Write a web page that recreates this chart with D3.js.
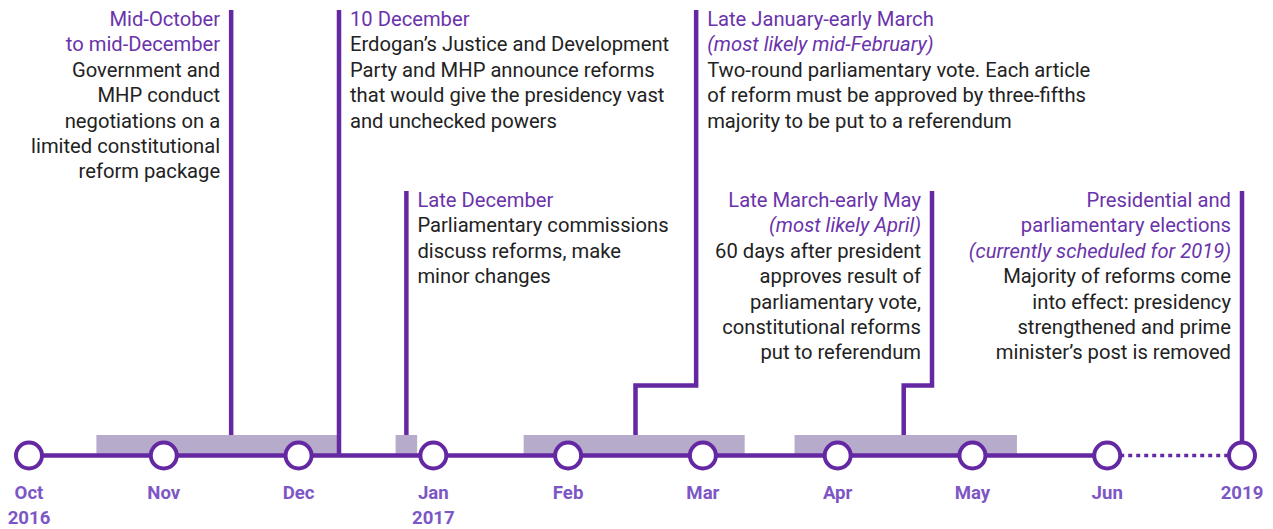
<!DOCTYPE html>
<html>
<head>
<meta charset="utf-8">
<script src="https://cdn.jsdelivr.net/npm/d3@7.9.0/dist/d3.min.js"></script>
<style>
  body { margin: 0; background: #fff; }
  svg { display: block; font-family: Roboto, "Noto Sans", sans-serif; }
</style>
</head>
<body>
<svg id="timeline" width="1273" height="529"></svg>
<script>
// ---- data ----
const months = ["Oct", "Nov", "Dec", "Jan", "Feb", "Mar", "Apr", "May", "Jun", "2019"];
const years = ["2016", "", "", "2017", "", "", "", "", "", ""];

// shaded periods, in month positions (0 = Oct 2016)
const periodStart = [0.50, 2.72, 3.67, 5.68];
const periodEnd = [2.29, 2.88, 5.31, 7.33];

// event annotations
const eventTitles = [
  ["Mid-October", "to mid-December"],
  ["10 December"],
  ["Late December"],
  ["Late January-early March"],
  ["Late March-early May"],
  ["Presidential and", "parliamentary elections"]
];
const eventNotes = [
  [],
  [],
  [],
  ["(most likely mid-February)"],
  ["(most likely April)"],
  ["(currently scheduled for 2019)"]
];
const eventBodies = [
  ["Government and", "MHP conduct", "negotiations on a", "limited constitutional", "reform package"],
  ["Erdogan’s Justice and Development", "Party and MHP announce reforms", "that would give the presidency vast", "and unchecked powers"],
  ["Parliamentary commissions", "discuss reforms, make", "minor changes"],
  ["Two-round parliamentary vote. Each article", "of reform must be approved by three-fifths", "majority to be put to a referendum"],
  ["60 days after president", "approves result of", "parliamentary vote,", "constitutional reforms", "put to referendum"],
  ["Majority of reforms come", "into effect: presidency", "strengthened and prime", "minister’s post is removed"]
];
// where the pointer line rises (month position), where it lands, and which row the text sits in
const eventStem = [1.50, 2.30, 2.80, 4.95, 6.70, 9.00];
const eventFoot = [1.50, 2.30, 2.80, 4.50, 6.49, 9.00];
const eventLands = ["bar", "axis", "bar", "bar", "bar", "circle"];
const eventRow = [0, 0, 1, 0, 1, 1];
const eventSide = ["left", "right", "right", "right", "left", "left"];

// ---- layout ----
const svg = d3.select("#timeline");
const purple = "#6428a3";
const headColor = "#6a33ab";
const tickColor = "#7d56c6";
const barColor = "#b7abcb";
const textColor = "#222";

const axisY = 455.5;
const barTop = 435;
const barBottom = 455;
const elbowY = 385.5;
const rowTop = [10, 191];
const lineH = 25.4;
const r = 13;

const x = d3.scaleLinear().domain([0, months.length - 1]).range([29, 1242]);

// shaded bars
svg.append("g").selectAll("rect")
  .data(periodStart.map((s, i) => ({ s, e: periodEnd[i] })))
  .join("rect")
  .attr("x", d => x(d.s))
  .attr("y", barTop)
  .attr("width", d => x(d.e) - x(d.s))
  .attr("height", barBottom - barTop)
  .attr("fill", barColor);

// axis line: solid to Jun, dotted to 2019
svg.append("line")
  .attr("x1", x(0)).attr("x2", x(8))
  .attr("y1", axisY).attr("y2", axisY)
  .attr("stroke", purple).attr("stroke-width", 4.5);
svg.append("line")
  .attr("x1", x(8) + r).attr("x2", x(9) - r)
  .attr("y1", axisY).attr("y2", axisY)
  .attr("stroke", purple).attr("stroke-width", 3.5)
  .attr("stroke-dasharray", "4,4");

// pointer lines
const stems = svg.append("g")
  .attr("fill", "none")
  .attr("stroke", purple)
  .attr("stroke-width", 4.5);

eventStem.forEach((s, i) => {
  const xs = x(s), xf = x(eventFoot[i]);
  const top = rowTop[eventRow[i]];
  const end = eventLands[i] === "bar" ? barTop : eventLands[i] === "axis" ? axisY : axisY - r;
  const pts = xs === xf
    ? [[xs, top], [xs, end]]
    : [[xs, top], [xs, elbowY], [xf, elbowY], [xf, end]];
  stems.append("path").attr("d", d3.line()(pts));
});

// month circles
svg.append("g").selectAll("circle")
  .data(months)
  .join("circle")
  .attr("cx", (d, i) => x(i))
  .attr("cy", axisY)
  .attr("r", r)
  .attr("fill", "#fff")
  .attr("stroke", purple)
  .attr("stroke-width", 4);

// tick labels
const ticks = svg.append("g")
  .attr("text-anchor", "middle")
  .attr("font-weight", "bold")
  .attr("font-size", 18.6)
  .attr("fill", tickColor);
months.forEach((m, i) => {
  const t = ticks.append("text").attr("x", x(i)).attr("y", 499);
  t.append("tspan").attr("x", x(i)).text(m);
  if (years[i]) t.append("tspan").attr("x", x(i)).attr("dy", 25).text(years[i]);
});

// annotation text
eventTitles.forEach((titles, i) => {
  const left = eventSide[i] === "left";
  const tx = x(eventStem[i]) + (left ? -11 : 11);
  const text = svg.append("text")
    .attr("x", tx)
    .attr("y", rowTop[eventRow[i]] + 16)
    .attr("text-anchor", left ? "end" : "start")
    .attr("font-size", 20.2);
  const lines = [
    ...titles.map(t => ({ t, fill: headColor, style: "normal" })),
    ...eventNotes[i].map(t => ({ t, fill: headColor, style: "italic" })),
    ...eventBodies[i].map(t => ({ t, fill: textColor, style: "normal" }))
  ];
  lines.forEach((l, j) => {
    text.append("tspan")
      .attr("x", tx)
      .attr("dy", j === 0 ? 0 : lineH)
      .attr("fill", l.fill)
      .attr("font-style", l.style)
      .text(l.t);
  });
});
</script>
</body>
</html>
